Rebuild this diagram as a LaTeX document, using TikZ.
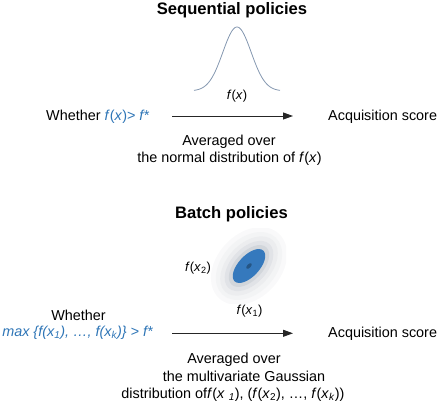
\documentclass[tikz,border=0pt]{standalone}
\usepackage{fontspec}
\setmainfont{Liberation Sans}
\usetikzlibrary{arrows.meta}
\definecolor{accent}{HTML}{2E75B6}
\definecolor{curvecol}{HTML}{8497B0}
\definecolor{halo}{HTML}{939DA8}
\definecolor{core}{HTML}{3579BD}
\begin{document}
\begin{tikzpicture}[x=1pt,y=-1pt,
  txt/.style={inner sep=0pt, anchor=base, font=\fontsize{14.4}{17}\selectfont},
  lbl/.style={inner sep=0pt, anchor=base, font=\fontsize{13}{15}\selectfont},
  ttl/.style={inner sep=0pt, anchor=base, font=\fontsize{16.6}{20}\selectfont\bfseries},
  conn/.style={draw=black!85, line width=0.9pt, -{Triangle[length=10pt,width=7pt]}},
  acc/.style={text=accent}]
\useasboundingbox (0,0) rectangle (437,404);
% ---------- Sequential ----------
\node[ttl] (t1) at (232,14.5) {Sequential policies};
\draw[curvecol, line width=0.8pt] plot[domain=-43:43, samples=90, smooth]
  ({237+\x}, {91-64*exp(-(\x*\x)/400)});
\node[lbl] (fx) at (237,100) {\textit{f}(\textit{x})};
\node[txt, anchor=base west] (w1) at (46,120.7)
  {Whether \textcolor{accent}{\textit{f}(\textit{x})> \textit{f*}}};
\node[txt, anchor=base west] (s1) at (328,120.7) {Acquisition score};
\coordinate (a1s) at (172,116);
\coordinate (a1e) at (293,116);
\draw[conn] (a1s) -- (a1e);
\node[txt] (av1) at (229,145.3) {Averaged over};
\node[txt] (nd1) at (229.5,163) {the normal distribution of \textit{f}(\textit{x})};
% ---------- Batch ----------
\node[ttl] (t2) at (231.5,218.3) {Batch policies};
\begin{scope}
  \clip (210,228) rectangle (286,303);
  \begin{scope}[shift={(249,266)}, rotate=47]
    \fill[halo!6]  (0,0) ellipse [x radius=44pt, y radius=32pt];
    \fill[halo!11] (0,0) ellipse [x radius=39pt, y radius=27pt];
    \fill[halo!18] (0,0) ellipse [x radius=35pt, y radius=22pt];
    \fill[halo!28] (0,0) ellipse [x radius=30pt, y radius=18pt];
    \fill[halo!42] (0,0) ellipse [x radius=25.5pt, y radius=14pt];
    \fill[core]    (0,0) ellipse [x radius=21pt, y radius=10.5pt];
    \fill[core!70!black] (0,0) ellipse [x radius=3.5pt, y radius=1.8pt];
  \end{scope}
\end{scope}
\node[lbl] (fx2) at (198,271) {\textit{f}(\textit{x}\textsubscript{2})};
\node[lbl] (fx1) at (249.5,314.3) {\textit{f}(\textit{x}\textsubscript{1})};
\node[txt] (w2) at (78.5,320.7) {Whether};
\node[txt, acc] (mx) at (77.5,336.7)
  {\itshape max \{f(x\textsubscript{1}), \dots, f(x\textsubscript{k})\} > f*};
\node[txt, anchor=base west] (s2) at (328,337.7) {Acquisition score};
\coordinate (a2s) at (172,333.3);
\coordinate (a2e) at (293,333.3);
\draw[conn] (a2s) -- (a2e);
\node[txt] (av2) at (234,363.3) {Averaged over};
\node[txt] (mg2) at (244,381) {the multivariate Gaussian};
\node[txt] (ds2) at (233,398.3) {distribution of\textit{f}(\textit{x}~\textsubscript{\textit{1}}), (\textit{f}(\textit{x}\textsubscript{2}), \dots, \textit{f}(\textit{x}\textsubscript{\textit{k}}))};
\end{tikzpicture}
\end{document}
